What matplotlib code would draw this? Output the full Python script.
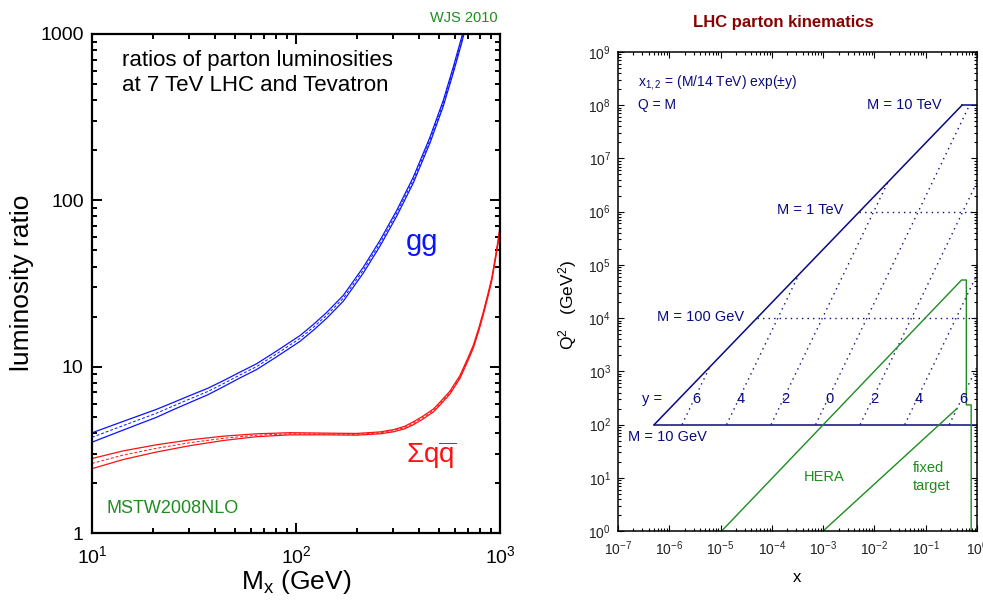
import matplotlib
matplotlib.use('Agg')
import matplotlib.pyplot as plt
import matplotlib.ticker as ticker
import numpy as np

plt.rcParams['font.family'] = ['Liberation Sans', 'DejaVu Sans']
plt.rcParams['mathtext.fontset'] = 'custom'
plt.rcParams['mathtext.rm'] = 'Liberation Sans'
plt.rcParams['mathtext.it'] = 'Liberation Sans:italic'
plt.rcParams['mathtext.bf'] = 'Liberation Sans:bold'

# ---- left panel: LHC(7 TeV) / Tevatron luminosity ratios
mass_gg = [10, 14.2, 20.7, 25, 30.2, 37, 44, 53, 64, 80, 104.7, 122, 141, 170.6, 213.8, 258, 311.6, 376,
	454, 527, 590, 649, 690]
ratio_gg = [3.76, 4.42, 5.25, 5.8, 6.4, 7.1, 7.9, 8.9, 10.0, 11.9, 14.8, 17.3, 20.3, 25.8, 38.1, 55.2, 83.6,
	132.7, 231, 383, 608, 921, 1240]
err_gg = [0.065, 0.06, 0.055, 0.05, 0.048, 0.045, 0.042, 0.04, 0.04, 0.04, 0.04, 0.04, 0.04, 0.04, 0.04,
	0.04, 0.04, 0.04, 0.04, 0.04, 0.04, 0.04, 0.04]

mass_qq = [10, 14.2, 20.7, 30.2, 44, 64, 93.5, 136, 198, 258, 300, 340, 376, 420, 471, 508, 569, 637, 690,
	740, 790, 828, 870, 910, 950, 981, 1000]
ratio_qq = [2.62, 2.94, 3.23, 3.49, 3.71, 3.87, 3.95, 3.94, 3.92, 4.0, 4.12, 4.3, 4.57, 4.95, 5.45, 6.0, 7.0,
	8.7, 10.8, 13.2, 17, 20.9, 26.5, 33.2, 45, 57.8, 68]
err_qq = [0.07, 0.06, 0.05, 0.04, 0.03, 0.02, 0.015, 0.012, 0.012, 0.013, 0.015, 0.017, 0.02, 0.02, 0.02,
	0.02, 0.02, 0.02, 0.02, 0.02, 0.02, 0.02, 0.02, 0.02, 0.02, 0.02, 0.02]

# ---- right panel: LHC parton kinematics
sqrt_s = 14000.0
masses = [10, 100, 1000, 10000]
mass_solid = [True, False, False, True]
rapidities = [6, 4, 2, 0, -2, -4, -6]
hera_x = [1.05e-5, 0.5, 0.62, 0.62, 0.77, 0.77]
hera_q2 = [1, 5.2e4, 5.2e4, 234, 234, 1]
fixed_x = [1e-3, 0.41]
fixed_q2 = [1, 202]

W, H = 983, 600
fig = plt.figure(figsize=(W / 100, H / 100), dpi=100)

def px_axes(l, t, r, b):
	return [l / W, 1 - b / H, (r - l) / W, (b - t) / H]

blue = '#0a14ff'
red = '#ff1010'
green = '#1e8c1e'
navy = '#0a0a80'

# ============ left
ax = fig.add_axes(px_axes(92, 34, 500, 533))
m = np.array(mass_gg); r = np.array(ratio_gg); e = np.array(err_gg)
ax.plot(m, r * (1 + e), color=blue, lw=0.9)
ax.plot(m, r * (1 - e), color=blue, lw=0.9)
ax.plot(m, r, color=blue, lw=0.7, ls=(0, (3, 2)))
m = np.array(mass_qq); r = np.array(ratio_qq); e = np.array(err_qq)
ax.plot(m, r * (1 + e), color=red, lw=0.9)
ax.plot(m, r * (1 - e), color=red, lw=0.9)
ax.plot(m, r, color=red, lw=0.7, ls=(0, (3, 2)))

ax.set_xscale('log'); ax.set_yscale('log')
ax.set_xlim(10, 1000); ax.set_ylim(1, 1000)
ax.yaxis.set_major_locator(ticker.LogLocator(base=10, numticks=10))
ax.yaxis.set_major_formatter(ticker.FormatStrFormatter('%d'))
ax.xaxis.set_major_locator(ticker.LogLocator(base=10, numticks=10))
ax.xaxis.set_major_formatter(ticker.LogFormatterMathtext())
for a in (ax.xaxis, ax.yaxis):
	a.set_minor_locator(ticker.LogLocator(base=10, subs=range(2, 10), numticks=10))
	a.set_minor_formatter(ticker.NullFormatter())
ax.tick_params(which='both', direction='in', top=True, right=True, width=1.4, labelsize=14)
ax.tick_params(which='major', length=7)
ax.tick_params(which='minor', length=3.5)
ax.tick_params(axis='x', pad=9)
ax.tick_params(axis='y', pad=6)
for s in ax.spines.values():
	s.set_linewidth(1.6)

fig.text(22 / W, 1 - 283 / H, 'luminosity ratio', rotation=90, ha='center', va='center', fontsize=19)
fig.text(296 / W, 1 - 582 / H, r'M$_\mathregular{x}$ (GeV)', ha='center', va='center', fontsize=19)
fig.text(498 / W, 1 - 18 / H, 'WJS 2010', ha='right', va='center', fontsize=10.5, color=green)
ax.text(14.1, 10 ** ((533 - 73) / 166.3), 'ratios of parton luminosities\nat 7 TeV LHC and Tevatron',
	fontsize=16, ha='left', va='center', linespacing=1.2)
ax.text(10 ** (1 + (422 - 92) / 204), 10 ** ((533 - 250) / 166.3), 'gg', color=blue, fontsize=21,
	ha='center', va='baseline')
ax.text(10 ** (1 + (431 - 92) / 204), 10 ** ((533 - 463) / 166.3), r'$\Sigma\mathregular{q}\overline{\mathregular{q}}$',
	color=red, fontsize=20, ha='center', va='baseline')
ax.text(10 ** (1 + (107 - 92) / 204), 10 ** ((533 - 513) / 166.3), 'MSTW2008NLO', color=green, fontsize=13,
	ha='left', va='baseline')

# ============ right
ax2 = fig.add_axes(px_axes(618, 52, 977, 531))
s = sqrt_s ** 2
# kinematic boundary x = M^2/s
ax2.plot([masses[0] ** 2 / s, masses[-1] ** 2 / s], [masses[0] ** 2, masses[-1] ** 2], color=navy, lw=1.1)
for M, solid in zip(masses, mass_solid):
	ax2.plot([M ** 2 / s, 1], [M ** 2, M ** 2], color=navy, lw=1.1 if solid else 1.0,
		ls='-' if solid else (0, (1, 3)))
for y in rapidities:
	m_max = min(masses[-1], sqrt_s * np.exp(-abs(y)))
	mm = np.array([masses[0], m_max])
	ax2.plot(mm / sqrt_s * np.exp(-y), mm ** 2, color=navy, lw=1.0, ls=(0, (1, 3)))
	ax2.text(17.3 / sqrt_s * np.exp(-y) * 1.08, 300, str(abs(y)), color=navy, fontsize=10.5,
		ha='center', va='center')
ax2.text(0.066, 300, 'y =', color=navy, fontsize=10.5, ha='left', va='center',
	transform=ax2.get_yaxis_transform())
ax2.plot(hera_x, hera_q2, color=green, lw=1.0)
ax2.plot(fixed_x, fixed_q2, color=green, lw=1.0)

ax2.text(1.6e-7, 58, 'M = 10 GeV', color=navy, fontsize=10.5, ha='left', va='center')
ax2.text(5.8e-7, 1.05e4, 'M = 100 GeV', color=navy, fontsize=10.5, ha='left', va='center')
ax2.text(2.44e-3, 1.07e6, 'M = 1 TeV', color=navy, fontsize=10.5, ha='right', va='center')
ax2.text(0.207, 1.02e8, 'M = 10 TeV', color=navy, fontsize=10.5, ha='right', va='center')
ax2.text(0.056, 0.937, r'x$_{\mathregular{1,2}}$ = (M/14 TeV) exp($\pm$y)', color=navy, fontsize=10,
	ha='left', va='center', transform=ax2.transAxes)
ax2.text(0.056, 0.889, 'Q = M', color=navy, fontsize=10, ha='left', va='center', transform=ax2.transAxes)
ax2.text(1.04e-3, 10.4, 'HERA', color=green, fontsize=10.5, ha='center', va='center')
ax2.text(0.056, 10.4, 'fixed\ntarget', color=green, fontsize=10.5, ha='left', va='center', linespacing=1.35)

ax2.set_xscale('log'); ax2.set_yscale('log')
ax2.set_xlim(1e-7, 1); ax2.set_ylim(1, 1e9)
for a in (ax2.xaxis, ax2.yaxis):
	a.set_major_locator(ticker.LogLocator(base=10, numticks=20))
	a.set_major_formatter(ticker.LogFormatterMathtext())
	a.set_minor_locator(ticker.LogLocator(base=10, subs=range(2, 10), numticks=20))
	a.set_minor_formatter(ticker.NullFormatter())
ax2.tick_params(which='both', direction='in', top=True, right=True, width=0.8, labelsize=10,
	labelcolor='#222222')
ax2.tick_params(which='major', length=4.5)
ax2.tick_params(which='minor', length=2.2)
ax2.tick_params(axis='x', pad=6)
ax2.tick_params(axis='y', pad=5)
for lab in ax2.get_xticklabels() + ax2.get_yticklabels():
	lab.set_fontfamily(['Liberation Sans Narrow', 'Liberation Sans'])
for sp in ax2.spines.values():
	sp.set_linewidth(1.1)

fig.text(783 / W, 1 - 22 / H, 'LHC parton kinematics', ha='center', va='center', fontsize=12,
	fontweight='bold', color='#8b0000')
fig.text(568 / W, 1 - 305 / H, r'Q$^\mathregular{2}$   (GeV$^\mathregular{2}$)', rotation=90, ha='center',
	va='center', fontsize=12.5)
fig.text(797 / W, 1 - 577 / H, 'x', ha='center', va='center', fontsize=12)

fig.savefig('out.png', dpi=100)
